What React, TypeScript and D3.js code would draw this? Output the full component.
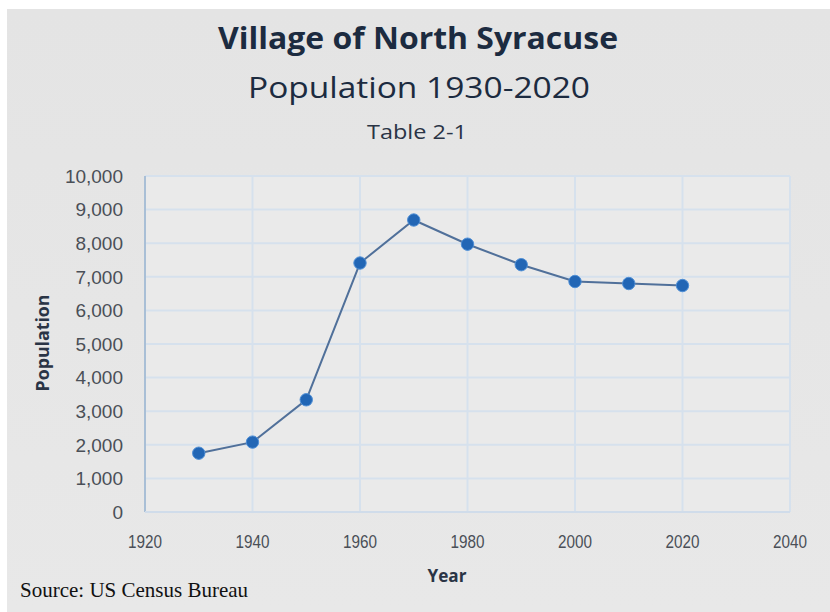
import React from "react";
import * as d3 from "d3";

const years = [1930, 1940, 1950, 1960, 1970, 1980, 1990, 2000, 2010, 2020];
const population = [1750, 2080, 3340, 7410, 8690, 7970, 7360, 6860, 6800, 6740];
const xTicks = [1920, 1940, 1960, 1980, 2000, 2020, 2040];
const yTicks = [0, 1000, 2000, 3000, 4000, 5000, 6000, 7000, 8000, 9000, 10000];
const title = "Village of North Syracuse";
const subtitle = "Population 1930-2020";
const tableLabel = "Table 2-1";
const xLabel = "Year";
const yLabel = "Population";
const source = "Source: US Census Bureau";

const W = 830;
const H = 612;
const left = 145;
const right = 790;
const top = 176;
const bottom = 512;

export default function App() {
  const x = d3.scaleLinear().domain([1920, 2040]).range([left, right]);
  const y = d3.scaleLinear().domain([0, 10000]).range([bottom, top]);
  const pts = years.map((yr, i) => [x(yr), y(population[i])] as [number, number]);
  const line = d3.line()(pts) || "";
  const fmt = d3.format(",");
  const sans = "'Open Sans', 'Noto Sans', sans-serif";
  const arial = "'Liberation Sans', Arial, sans-serif";
  return (
    <svg
      width={W}
      height={H}
      style={{ position: "absolute", left: 0, top: 0, background: "#ffffff" }}
    >
      <defs>
        <linearGradient id="bg" x1="0" y1="0" x2="0" y2="1">
          <stop offset="0" stopColor="#e4e4e4" />
          <stop offset="1" stopColor="#e8e8e8" />
        </linearGradient>
      </defs>
      <rect x={7} y={9} width={W - 7} height={H - 9} fill="url(#bg)" />
      <rect x={left} y={top} width={right - left} height={bottom - top} fill="#eaeaea" />
      {yTicks.map((t) => (
        <line key={"gy" + t} x1={left} x2={right} y1={y(t)} y2={y(t)} stroke="#d6e1ed" strokeWidth={2} />
      ))}
      {xTicks.map((t) => (
        <line key={"gx" + t} x1={x(t)} x2={x(t)} y1={top} y2={bottom} stroke="#d6e1ed" strokeWidth={2} />
      ))}
      <line x1={left} x2={left} y1={top} y2={bottom} stroke="#a9bfd6" strokeWidth={2} />
      <line x1={left} x2={right} y1={bottom} y2={bottom} stroke="#d0dcea" strokeWidth={2} />
      {yTicks.map((t) => (
        <text key={"ty" + t} x={left - 22} y={y(t)} dy="0.36em" textAnchor="end" fontFamily={arial} fontSize={19} fill="#4a4f57">
          {fmt(t)}
        </text>
      ))}
      {xTicks.map((t) => (
        <text key={"tx" + t} x={x(t)} y={bottom + 29} dy="0.36em" textAnchor="middle" fontFamily={arial} fontSize={19} fill="#4a4f57" textLength={34} lengthAdjust="spacingAndGlyphs">
          {t}
        </text>
      ))}
      <path d={line} fill="none" stroke="#50709a" strokeWidth={2} />
      {pts.map(([px, py], i) => (
        <circle key={"p" + i} cx={px} cy={py} r={6.2} fill="#2266b5" stroke="#4f8fd6" strokeWidth={1} />
      ))}
      <text x={418} y={49} textAnchor="middle" fontFamily={sans} fontWeight={700} fontSize={30} fill="#1c2b40" textLength={400} lengthAdjust="spacingAndGlyphs">
        {title}
      </text>
      <text x={419} y={98} textAnchor="middle" fontFamily={sans} fontSize={30} fill="#1c2b40" textLength={342} lengthAdjust="spacingAndGlyphs">
        {subtitle}
      </text>
      <text x={417} y={139} textAnchor="middle" fontFamily={sans} fontSize={20} fill="#2a3445" textLength={100} lengthAdjust="spacingAndGlyphs">
        {tableLabel}
      </text>
      <text x={447} y={582} textAnchor="middle" fontFamily={sans} fontWeight={700} fontSize={17} fill="#2a3445" textLength={39} lengthAdjust="spacingAndGlyphs">
        {xLabel}
      </text>
      <text transform={`translate(49,${343}) rotate(-90)`} textAnchor="middle" fontFamily={sans} fontWeight={700} fontSize={17} fill="#2a3445" textLength={97} lengthAdjust="spacingAndGlyphs">
        {yLabel}
      </text>
      <text x={20} y={597} fontFamily="'Liberation Serif', 'Times New Roman', serif" fontSize={21} fill="#111111">
        {source}
      </text>
    </svg>
  );
}
